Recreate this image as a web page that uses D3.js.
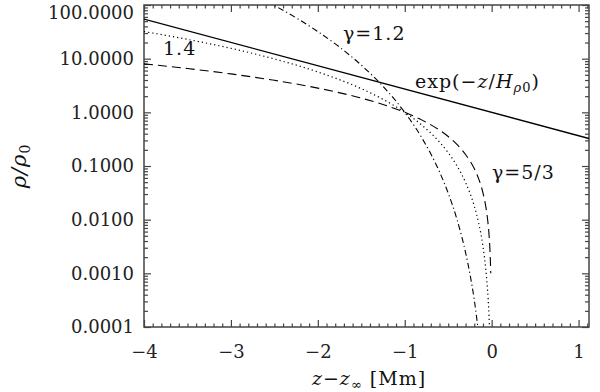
<!DOCTYPE html>
<html>
<head>
<meta charset="utf-8">
<script src="https://cdn.jsdelivr.net/npm/d3@7"></script>
<style>
  body { margin: 0; background: #fff; }
  svg { display: block; font-family: "DejaVu Serif", serif; }
  .tick text { font-size: 18px; fill: #222; font-family: "DejaVu Serif", serif; }
  .tick line { stroke: #444; stroke-width: 1.2; }
  .domain { display: none; }
</style>
</head>
<body>
<svg id="chart" width="600" height="392"></svg>
<script>
// x in Mm (z - z_inf), y = rho/rho0
const xMajor = [-4, -3, -2, -1, 0, 1];
const yMajor = [0.0001, 0.001, 0.01, 0.1, 1, 10, 100];

// exp(-z/H) reference line
const zExp = [-4, 1.12];
const rhoExp = [54.6, 0.326];

// gamma = 5/3 (dashed)
const zG53 = [-4, -3.5, -3, -2.5, -2, -1.5, -1.25, -1, -0.8, -0.6, -0.5, -0.4, -0.3, -0.2, -0.15, -0.1, -0.07, -0.05, -0.03, -0.02, -0.01];
const rhoG53 = [8, 6.55, 5.2, 3.95, 2.83, 1.84, 1.4, 1, 0.716, 0.465, 0.354, 0.253, 0.164, 0.0894, 0.0581, 0.0316, 0.0185, 0.0112, 0.0052, 0.00283, 0.001];

// gamma = 1.4 (dotted)
const zG14 = [-4, -3.5, -3, -2.5, -2, -1.5, -1.25, -1, -0.8, -0.6, -0.5, -0.4, -0.3, -0.2, -0.15, -0.1, -0.07, -0.05, -0.03, -0.02];
const rhoG14 = [32, 22.9, 15.6, 9.88, 5.66, 2.76, 1.75, 1, 0.572, 0.279, 0.177, 0.101, 0.0493, 0.0179, 0.00871, 0.00316, 0.0013, 0.00056, 0.000156, 0.0000566];

// gamma = 1.2 (dash-dot)
const zG12 = [-3, -2.5, -2.25, -2, -1.75, -1.5, -1.25, -1, -0.8, -0.6, -0.5, -0.4, -0.3, -0.25, -0.2, -0.15];
const rhoG12 = [243, 97.7, 57.7, 32, 16.4, 7.59, 3.05, 1, 0.328, 0.0778, 0.03125, 0.01024, 0.00243, 0.000977, 0.00032, 0.0000759];

const pLeft = 144, pRight = 589, pTop = 5, pBottom = 327;

const svg = d3.select("#chart");

const x = d3.scaleLinear().domain([-4, 1.12]).range([pLeft, pRight]);
const y = d3.scaleLog().domain([0.0001, 100]).range([pBottom, pTop]);

const xMinor = d3.range(-40, 12).map(d => d / 10).filter(d => !xMajor.includes(d));
let yMinor = [];
yMajor.slice(0, -1).forEach(d => { for (let k = 2; k < 10; k++) yMinor.push(d * k); });

const minus = d => (d < 0 ? "\u2212" + Math.abs(d) : "" + d);

// bottom / top axes
svg.append("g").attr("transform", `translate(0,${pBottom})`)
  .call(d3.axisBottom(x).tickValues(xMajor).tickSize(-7).tickPadding(18).tickFormat(minus));
svg.append("g").attr("transform", `translate(0,${pBottom})`)
  .call(d3.axisBottom(x).tickValues(xMinor).tickSize(-3.5).tickFormat(""));
svg.append("g").attr("transform", `translate(0,${pTop})`)
  .call(d3.axisTop(x).tickValues(xMajor).tickSize(-7).tickFormat(""));
svg.append("g").attr("transform", `translate(0,${pTop})`)
  .call(d3.axisTop(x).tickValues(xMinor).tickSize(-3.5).tickFormat(""));

// left / right axes
const yAxisG = svg.append("g").attr("transform", `translate(${pLeft},0)`)
  .call(d3.axisLeft(y).tickValues(yMajor).tickSize(-7).tickPadding(10).tickFormat(d3.format(".4f")));
yAxisG.selectAll(".tick text").filter(d => d === 100).attr("y", 8);
svg.append("g").attr("transform", `translate(${pLeft},0)`)
  .call(d3.axisLeft(y).tickValues(yMinor).tickSize(-4).tickFormat(""));
svg.append("g").attr("transform", `translate(${pRight},0)`)
  .call(d3.axisRight(y).tickValues(yMajor).tickSize(-7).tickFormat(""));
svg.append("g").attr("transform", `translate(${pRight},0)`)
  .call(d3.axisRight(y).tickValues(yMinor).tickSize(-4).tickFormat(""));

// frame
svg.append("rect")
  .attr("x", pLeft).attr("y", pTop)
  .attr("width", pRight - pLeft).attr("height", pBottom - pTop)
  .attr("fill", "none").attr("stroke", "#444").attr("stroke-width", 1.5);

svg.append("clipPath").attr("id", "plotClip")
  .append("rect").attr("x", pLeft).attr("y", pTop)
  .attr("width", pRight - pLeft).attr("height", pBottom - pTop);

const line = d3.line().x(d => x(d[0])).y(d => y(d[1])).curve(d3.curveMonotoneX);
const plot = svg.append("g").attr("clip-path", "url(#plotClip)");

const series = [
  { z: zExp, rho: rhoExp, dash: null, w: 1.4 },
  { z: zG53, rho: rhoG53, dash: "9,5", w: 1.1 },
  { z: zG14, rho: rhoG14, dash: "1.2,3", w: 1.2 },
  { z: zG12, rho: rhoG12, dash: "6,3,1.2,3", w: 1.1 }
];

plot.selectAll(".curve")
  .data(series)
  .enter()
  .append("path")
  .attr("class", "curve")
  .attr("d", d => line(d.z.map((z, i) => [z, d.rho[i]])))
  .attr("fill", "none")
  .attr("stroke", "#000")
  .attr("stroke-width", d => d.w)
  .attr("stroke-dasharray", d => d.dash);

// curve labels
const lab = svg.append("g").attr("font-size", 19).attr("letter-spacing", 1).attr("fill", "#111");
lab.append("text").attr("x", 343).attr("y", 40).text("\u03b3=1.2");
lab.append("text").attr("x", 163).attr("y", 55).text("1.4");
lab.append("text").attr("x", 492).attr("y", 179).text("\u03b3=5/3");
const expT = lab.append("text").attr("x", 415).attr("y", 88);
expT.append("tspan").text("exp(\u2212");
expT.append("tspan").attr("font-style", "italic").text("z");
expT.append("tspan").text("/");
expT.append("tspan").attr("font-style", "italic").text("H");
expT.append("tspan").attr("font-size", 13).attr("font-style", "italic").attr("dy", 4).text("\u03c1");
expT.append("tspan").attr("font-size", 13).text("0");
expT.append("tspan").attr("dy", -4).text(")");

// axis titles
const xt = svg.append("text").attr("x", 369).attr("y", 385)
  .attr("text-anchor", "middle").attr("font-size", 19).attr("letter-spacing", 1).attr("fill", "#111");
xt.append("tspan").attr("font-style", "italic").text("z");
xt.append("tspan").text("\u2212");
xt.append("tspan").attr("font-style", "italic").text("z");
xt.append("tspan").attr("font-size", 13).attr("dy", 4).text("\u221e");
xt.append("tspan").attr("dy", -4).text(" [Mm]");

const yt = svg.append("text")
  .attr("transform", "translate(26,166) rotate(-90)")
  .attr("text-anchor", "middle").attr("font-size", 21).attr("letter-spacing", 1).attr("fill", "#111");
yt.append("tspan").attr("font-style", "italic").text("\u03c1/\u03c1");
yt.append("tspan").attr("font-size", 14).attr("dy", 4).text("0");
</script>
</body>
</html>
